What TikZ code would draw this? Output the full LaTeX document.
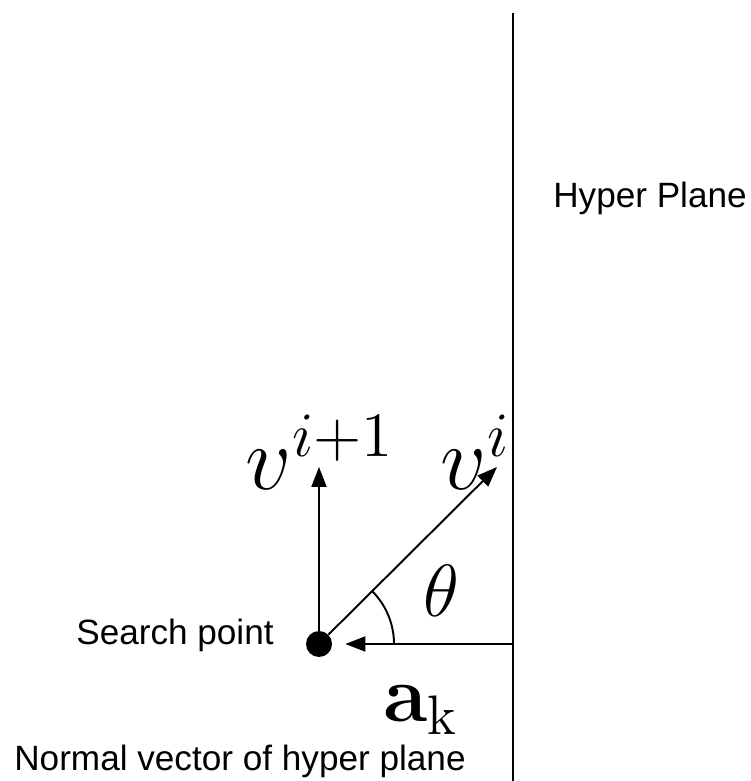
\documentclass[tikz,border=0pt]{standalone}
\usepackage{amsmath}
\usepackage[no-math]{fontspec}
\newfontfamily\labelfont{Liberation Sans}
\usepackage{tikz}
\usetikzlibrary{arrows.meta, positioning}

\begin{document}
\begin{tikzpicture}[
    vec/.style={
        -{Triangle[length=4mm,width=3mm]},
        line width=1.1pt
    },
    txt/.style={
        font=\labelfont\fontsize{20}{24}\selectfont,
        inner sep=0pt,
        anchor=base
    },
    sym/.style={
        font=\fontsize{20.74}{24}\selectfont,
        inner sep=0pt,
        anchor=base west,
        transform shape
    }
]
\useasboundingbox (0,0) rectangle (15,15.62);

% The hyper plane
\coordinate (top) at (10.26,15.36);
\coordinate (bottom) at (10.26,0);
\coordinate (foot) at (10.26,2.74);
\draw[line width=1.1pt] (top) -- (bottom);

% Search point and its vectors
\node[circle, fill, inner sep=0pt, minimum size=0.52cm] (search) at (6.38,2.74) {};
\coordinate (vi) at (9.94,6.28);
\coordinate (vnext) at (6.38,6.28);

\draw[vec, shorten >=0.26cm] (foot) -- (search);
\draw[vec] (search) -- (vnext);
\draw[vec] (search) -- (vi);
\draw[line width=1.1pt] (search.center) ++(1.5,0) arc[start angle=0, end angle=45, radius=1.5];

% Labels
\node[txt] (hplabel) at (13.0,11.46) {Hyper Plane};
\node[txt] (splabel) at (3.5,2.72) {Search point};
\node[txt] (nvlabel) at (4.8,0.22) {Normal vector of hyper plane};
\node[sym, scale=2.5] (vnextlabel) at (4.9,5.82) {$v^{i+1}$};
\node[sym, scale=2.5] (vilabel) at (8.8,5.82) {$v^{i}$};
\node[sym, scale=2.03] (thetalabel) at (8.46,3.28) {$\theta$};
\node[sym, scale=2.2] (aklabel) at (7.66,1.18) {$\mathbf{a}_\mathrm{k}$};

\end{tikzpicture}
\end{document}
